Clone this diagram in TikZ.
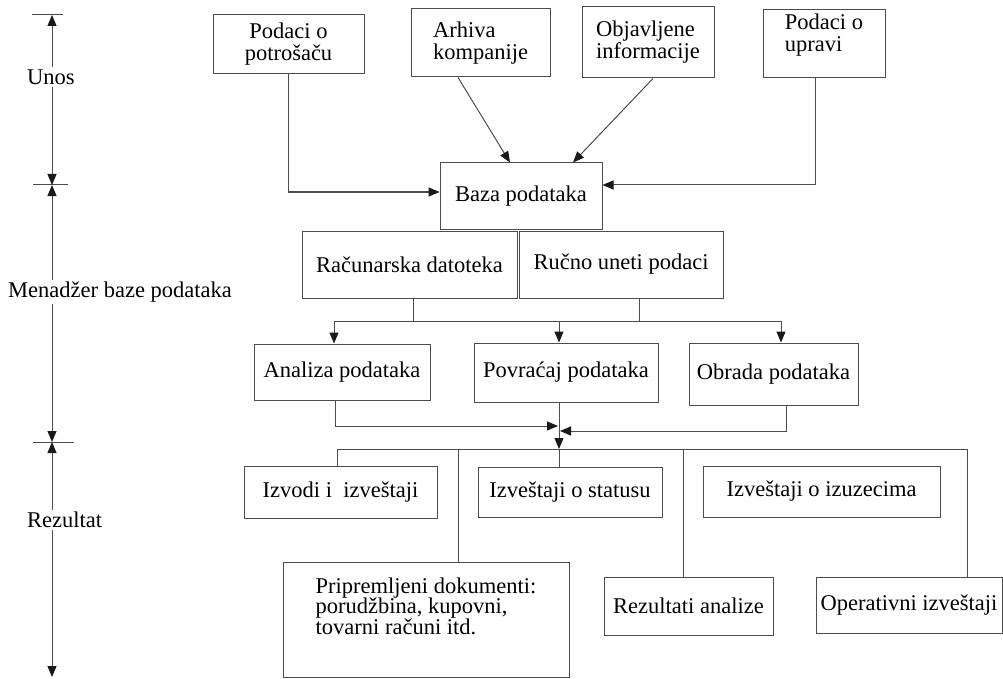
\documentclass[tikz,border=0pt]{standalone}
\usepackage{fontspec}
\setmainfont{Liberation Serif}
\usepackage{tikz}
\usetikzlibrary{arrows.meta}

\begin{document}
\begin{tikzpicture}[x=1pt, y=-1pt,
  box/.style={draw=black!70, line width=1pt, rectangle, inner sep=0pt,
    font=\fontsize{22.5}{22}\selectfont, text=black},
  lbl/.style={inner sep=2pt, font=\fontsize{22.5}{22}\selectfont, text=black},
  line/.style={draw=black!70, line width=1pt},
  arr/.style={line, -{Triangle[length=11pt,width=9pt,color=black!90]}}]
\useasboundingbox (0,0) rectangle (1003,679);

% Drawing left axis
\coordinate (t1) at (52,15);
\coordinate (t2) at (52,185);
\coordinate (t3) at (52,442);
\coordinate (t4) at (52,677);
\draw[line] (32,15) -- (63,15);
\draw[line] (33,185) -- (68,185);
\draw[line] (33,442) -- (74,442);
\node[lbl, anchor=west] (lunos) at (25,77) {Unos};
\node[lbl, anchor=west] (lmen) at (6,292) {Menadžer baze podataka};
\node[lbl, anchor=west] (lrez) at (25,520) {Rezultat};
\draw[arr] (lunos.north -| t1) -- (t1);
\draw[arr] (lunos.south -| t1) -- (t2);
\draw[arr] (lmen.north -| t2) -- (t2);
\draw[arr] (lmen.south -| t2) -- (t3);
\draw[arr] (lrez.north -| t3) -- (t3);
\draw[arr] (lrez.south -| t3) -- (t4);

% Drawing input boxes
\node[box, minimum width=151, minimum height=59, align=center] (pot) at (288.5,44.5) {Podaci o\\potrošaču};
\node[box, minimum width=139, minimum height=68, align=left] (arh) at (480.5,43) {Arhiva\\kompanije};
\node[box, minimum width=132, minimum height=71, align=left] (obj) at (648,42.5) {Objavljene\\informacije};
\node[box, minimum width=122, minimum height=68, align=left] (upr) at (824,44) {Podaci o\\upravi\\[-5pt]\strut};

% Drawing data base
\node[box, minimum width=162, minimum height=66] (baza) at (521,196) {Baza podataka};
\node[box, minimum width=215, minimum height=67] (rac) at (409.5,264.5) {Računarska datoteka};
\node[box, minimum width=204, minimum height=67] (ruc) at (621,264.5) {Ručno uneti podaci};

\draw[arr] (pot.south) |- ([yshift=4pt]baza.west);
\draw[arr] ([xshift=-22.5pt]arh.south) -- ([xshift=-11pt]baza.north);
\draw[arr] ([xshift=5pt]obj.south) -- ([xshift=52pt]baza.north);
\draw[arr] ([xshift=-9pt]upr.south) |- ([yshift=11pt]baza.east);

% Drawing processing
\node[box, minimum width=176, minimum height=56] (ana) at (342,372) {Analiza podataka};
\node[box, minimum width=184, minimum height=59] (pov) at (566,372.5) {Povraćaj podataka};
\node[box, minimum width=169, minimum height=62] (obr) at (773.5,374) {Obrada podataka};

\coordinate (busA) at (334,321);
\coordinate (busM) at (559,321);
\coordinate (busB) at (781,321);
\draw[line] (busA) -- (busB);
\draw[line] ([xshift=3.5pt]rac.south) -- ([xshift=3.5pt]rac.south |- busA);
\draw[line] ([xshift=18pt]ruc.south) -- ([xshift=18pt]ruc.south |- busA);
\draw[arr] (busA) -- (busA |- ana.north);
\draw[arr] (busM) -- (busM |- pov.north);
\draw[arr] (busB) -- (busB |- obr.north);

\coordinate (inL) at (558,426);
\coordinate (inR) at (560,431);
\coordinate (bt) at (559,449);
\draw[arr] ([xshift=-7pt]ana.south) |- (inL);
\draw[arr] ([xshift=12.5pt]obr.south) |- (inR);
\draw[arr] ([xshift=-7pt]pov.south) -- (bt);

% Drawing results
\node[box, minimum width=193, minimum height=52] (izv) at (340.5,492) {Izvodi i\ \ izveštaji};
\node[box, minimum width=184, minimum height=50] (sta) at (570,492) {Izveštaji o statusu};
\node[box, minimum width=237, minimum height=51] (izu) at (821.5,491.5) {Izveštaji o izuzecima};
\node[box, minimum width=286, minimum height=115, align=left,
  font={\fontsize{22.5}{20.5}\selectfont\lineskiplimit=-10pt}] (pri) at (426,619.5)
  {Pripremljeni dokumenti:\\porudžbina, kupovni,\\tovarni računi itd.\\\strut};
\node[box, minimum width=169, minimum height=58] (rez) at (688.5,606) {Rezultati analize};
\node[box, minimum width=186, minimum height=56] (ope) at (909,605) {Operativni izveštaji};

\coordinate (bL) at (337,449);
\coordinate (bP) at (458,449);
\coordinate (bZ) at (683,449);
\coordinate (bR) at (967,449);
\draw[line] (bL) -- (bR);
\draw[line] (bL) -- (bL |- izv.north);
\draw[line] (bP) -- (bP |- pri.north);
\draw[line] (bt) -- (bt |- sta.north);
\draw[line] (bZ) -- (bZ |- rez.north);
\draw[line] (bR) -- (bR |- ope.north);
\end{tikzpicture}
\end{document}
